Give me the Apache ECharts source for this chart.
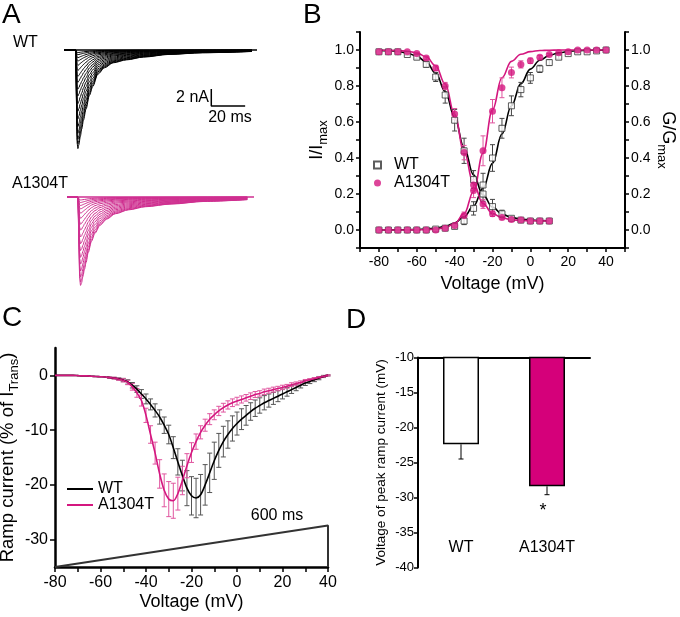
<!DOCTYPE html>
<html><head><meta charset="utf-8">
<script src="https://cdn.jsdelivr.net/npm/echarts@6/dist/echarts.min.js"></script>
<style>html,body{margin:0;padding:0;background:#fff}#c{width:680px;height:617px}</style>
</head><body><div id="c"></div>
<script>
// ---------- Panel A: current traces (time in ms, current in nA) ----------
const wtTimeMs = [-7, 0, 0.4, 0.8, 1.2, 1.8, 2.6, 3.5, 4.5, 6, 8, 10, 13, 17, 22, 30, 40, 55, 75, 104];
const wtShape = [0, 0, 0.55, 0.95, 1.0, 0.96, 0.88, 0.80, 0.71, 0.60, 0.46, 0.37, 0.245, 0.18, 0.13, 0.10, 0.072, 0.045, 0.028, 0.015];
const wtPeaksNA = [11.6, 11.1, 10.5, 9.8, 9.0, 8.1, 7.2, 6.3, 5.4, 4.6, 3.8, 3.1, 2.4, 1.8, 1.3, 0.9, 0.55, 0.3];
const mutTimeMs = [-6.5, 0, 0.5, 1.0, 1.5, 2.1, 2.9, 3.8, 4.8, 6, 8, 10, 13, 17, 22, 30, 40, 55, 75, 100];
const mutShape = [0, 0, 0.5, 0.92, 1.0, 0.97, 0.90, 0.82, 0.74, 0.63, 0.50, 0.41, 0.32, 0.25, 0.19, 0.145, 0.11, 0.08, 0.05, 0.03];
const mutPeaksNA = [10.4, 10.0, 9.4, 8.7, 7.9, 7.1, 6.3, 5.5, 4.7, 3.9, 3.2, 2.5, 1.9, 1.4, 1.0, 0.65, 0.35];
const wtBaselineMs = [-7, 107];
const mutBaselineMs = [-6.5, 104];
const scaleBarStartMs = 80, scaleBarLevelNA = -6.6, scaleBarMs = 20, scaleBarNA = 2;

// ---------- Panel B: steady-state inactivation / activation ----------
const inactV = [-80,-75,-70,-65,-60,-55,-50,-45,-40,-35,-30,-25,-20,-15,-10,-5,0,5,10];
const wtInact = [0.99,0.99,0.99,0.975,0.96,0.92,0.85,0.75,0.61,0.44,0.28,0.20,0.13,0.09,0.065,0.055,0.05,0.05,0.05];
const wtInactErr = [0,0,0,0.005,0.01,0.015,0.025,0.045,0.06,0.07,0.05,0.04,0.04,0.02,0.01,0.005,0,0,0];
const mutInact = [0.99,0.99,0.99,0.99,0.98,0.955,0.90,0.80,0.645,0.43,0.25,0.145,0.09,0.07,0.058,0.055,0.05,0.05,0.05];
const mutInactErr = [0,0,0,0,0.005,0.01,0.015,0.02,0.03,0.04,0.03,0.025,0.015,0.01,0.005,0,0,0,0];
const wtInactFit = [0.998,0.996,0.992,0.983,0.966,0.933,0.872,0.770,0.625,0.458,0.306,0.195,0.127,0.089,0.070,0.060,0.055,0.052,0.051];
const mutInactFit = [1.0,0.999,0.997,0.993,0.984,0.962,0.912,0.811,0.641,0.433,0.256,0.147,0.092,0.068,0.057,0.053,0.051,0.051,0.050];
const actV = [-80,-75,-70,-65,-60,-55,-50,-45,-40,-35,-30,-25,-20,-15,-10,-5,0,5,10,15,20,25,30,35,40];
const wtAct = [0,0,0,0,0,0,0.005,0.01,0.02,0.05,0.12,0.25,0.40,0.565,0.69,0.78,0.845,0.895,0.93,0.96,0.98,0.99,0.99,0.995,1.0];
const wtActErr = [0,0,0,0,0,0,0,0.005,0.01,0.02,0.037,0.065,0.074,0.055,0.055,0.04,0.03,0.02,0.015,0.01,0.005,0.005,0,0,0];
const mutAct = [0,0,0,0,0,0,0,0.01,0.025,0.08,0.22,0.44,0.66,0.79,0.875,0.92,0.94,0.96,0.975,0.985,0.99,1.0,1.0,1.0,1.0];
const mutActErr = [0,0,0,0,0,0,0,0.005,0.01,0.02,0.04,0.083,0.065,0.055,0.03,0.02,0.015,0.01,0.005,0,0,0,0,0,0];
const wtActFit = [0.0002,0.0004,0.0007,0.0015,0.0028,0.0055,0.0106,0.0205,0.039,0.074,0.134,0.231,0.370,0.533,0.690,0.813,0.894,0.943,0.970,0.984,0.992,0.996,0.998,0.999,0.9995];
const mutActFit = [0,0,0.0001,0.0003,0.0007,0.0018,0.005,0.013,0.036,0.091,0.214,0.426,0.668,0.846,0.937,0.976,0.991,0.997,0.999,1.0,1.0,1.0,1.0,1.0,1.0];

// ---------- Panel C: ramp currents (% of I_Trans) ----------
const rampV = [-80,-78,-76,-74,-72,-70,-68,-66,-64,-62,-60,-58,-56,-54,-52,-50,-48,-46,-44,-42,-40,-38,-36,-34,-32,-30,-28,-26,-24,-22,-20,-18,-16,-14,-12,-10,-8,-6,-4,-2,0,2,4,6,8,10,12,14,16,18,20,22,24,26,28,30,32,34,36,38,40];
const rampWT = [0,0,0,0,0,-0.05,-0.1,-0.1,-0.15,-0.2,-0.25,-0.3,-0.4,-0.5,-0.65,-0.85,-1.2,-1.8,-2.5,-3.4,-4.3,-5.3,-6.4,-7.6,-9.1,-10.8,-13.2,-15.8,-18.3,-20.6,-22.0,-22.4,-21.8,-20.0,-17.8,-15.6,-13.7,-12.1,-10.8,-9.7,-8.8,-8.0,-7.3,-6.6,-6.0,-5.5,-5.0,-4.6,-4.2,-3.8,-3.4,-3.0,-2.6,-2.2,-1.8,-1.4,-1.1,-0.8,-0.5,-0.2,0];
const rampWTErr = [0,0,0,0,0,0,0,0,0,0,0,0,0.1,0.15,0.2,0.3,0.4,0.5,0.6,0.8,0.9,1.0,1.2,1.3,1.5,1.7,2.0,2.4,2.8,3.2,3.5,3.6,3.7,3.7,3.6,3.4,3.1,2.8,2.5,2.3,2.1,1.9,1.8,1.6,1.5,1.4,1.3,1.2,1.1,1.0,0.9,0.8,0.7,0.6,0.5,0.45,0.4,0.35,0.3,0.2,0.1];
const rampMut = [0,0,0,0,0,-0.05,-0.1,-0.1,-0.15,-0.2,-0.25,-0.3,-0.4,-0.5,-0.7,-0.9,-1.3,-2.1,-3.2,-4.6,-7.3,-10.8,-14.2,-18.0,-21.0,-22.6,-22.9,-21.6,-19.2,-16.5,-14.1,-12.1,-10.4,-9.1,-8.0,-7.2,-6.5,-5.9,-5.4,-5.0,-4.7,-4.4,-4.1,-3.8,-3.5,-3.3,-3.0,-2.8,-2.6,-2.4,-2.2,-2.0,-1.7,-1.5,-1.3,-1.0,-0.8,-0.6,-0.4,-0.2,0];
const rampMutErr = [0,0,0,0,0,0,0,0,0,0,0,0,0.1,0.15,0.2,0.3,0.4,0.6,0.8,1.0,1.3,1.6,2.0,2.6,3.0,3.2,3.2,3.0,2.6,2.2,1.8,1.4,1.2,1.1,1.0,0.9,0.85,0.8,0.75,0.7,0.7,0.65,0.6,0.6,0.55,0.5,0.5,0.45,0.45,0.4,0.4,0.35,0.35,0.3,0.3,0.25,0.2,0.2,0.15,0.1,0.1];
const rampProtocolV = [-80, 40];
const rampProtocolLevel = [-35, -27.4];

// ---------- Panel D: voltage of peak ramp current ----------
const dCategories = ['WT', 'A1304T'];
const dPeakV = [-22.4, -28.4];
const dPeakErr = [2.1, 1.2];

// ================= chart =================
const FONT = "'Liberation Sans', Arial, Helvetica, sans-serif";
const PINK = '#d4177f', PINK_ERR = '#e0559f', PINK_TRACE = '#cf2f90', BAR_PINK = '#d5007a';
const zip = (xs, ys) => xs.map((x, i) => [x, ys[i]]);

function errBars(name, xi, yi, xs, ys, es, color, capHalf, lowerOnly) {
  const data = [];
  xs.forEach((x, i) => { if (es[i] > 0) data.push([x, ys[i] - es[i], lowerOnly ? ys[i] : ys[i] + es[i]]); });
  return {
    type: 'custom', name, xAxisIndex: xi, yAxisIndex: yi, silent: true, data, z: 3,
    renderItem(params, api) {
      const x = api.value(0);
      const lo = api.coord([x, api.value(1)]);
      const hi = api.coord([x, api.value(2)]);
      const st = { stroke: color, lineWidth: 1 };
      const ch = [
        { type: 'line', shape: { x1: lo[0], y1: lo[1], x2: hi[0], y2: hi[1] }, style: st },
        { type: 'line', shape: { x1: lo[0] - capHalf, y1: lo[1], x2: lo[0] + capHalf, y2: lo[1] }, style: st }
      ];
      if (!lowerOnly) ch.push({ type: 'line', shape: { x1: hi[0] - capHalf, y1: hi[1], x2: hi[0] + capHalf, y2: hi[1] }, style: st });
      return { type: 'group', children: ch };
    }
  };
}

const series = [];
wtPeaksNA.forEach((p, k) => series.push({
  type: 'line', name: 'WT trace ' + (k + 1), xAxisIndex: 0, yAxisIndex: 0, silent: true,
  data: wtTimeMs.map((t, i) => [t, -p * wtShape[i]]), smooth: 0.3, smoothMonotone: 'x',
  symbol: 'none', lineStyle: { color: '#000', width: 1 }
}));
mutPeaksNA.forEach((p, k) => series.push({
  type: 'line', name: 'A1304T trace ' + (k + 1), xAxisIndex: 1, yAxisIndex: 1, silent: true,
  data: mutTimeMs.map((t, i) => [t, -p * mutShape[i]]), smooth: 0.3, smoothMonotone: 'x',
  symbol: 'none', lineStyle: { color: PINK_TRACE, width: 1 }
}));
series.push({ type: 'line', name: 'WT baseline', xAxisIndex: 0, yAxisIndex: 0, silent: true, symbol: 'none',
  data: wtBaselineMs.map(t => [t, 0]), lineStyle: { color: '#000', width: 1.5 } });
series.push({ type: 'line', name: 'A1304T baseline', xAxisIndex: 1, yAxisIndex: 1, silent: true, symbol: 'none',
  data: mutBaselineMs.map(t => [t, 0]), lineStyle: { color: PINK_TRACE, width: 1.5 } });
series.push({ type: 'line', name: 'scale bar', xAxisIndex: 0, yAxisIndex: 0, silent: true, symbol: 'none',
  data: [[scaleBarStartMs, scaleBarLevelNA + scaleBarNA], [scaleBarStartMs, scaleBarLevelNA], [scaleBarStartMs + scaleBarMs, scaleBarLevelNA]],
  lineStyle: { color: '#000', width: 1.5 } });

// B
const fitLine = (name, yi, xs, ys, color) => ({ type: 'line', name, xAxisIndex: 2, yAxisIndex: yi, silent: true,
  data: zip(xs, ys), smooth: 0.4, smoothMonotone: 'x', symbol: 'none', lineStyle: { color, width: 1.6 }, z: 2 });
series.push(fitLine('WT inactivation fit', 2, inactV, wtInactFit, '#000'));
series.push(fitLine('WT activation fit', 3, actV, wtActFit, '#000'));
series.push(fitLine('A1304T inactivation fit', 2, inactV, mutInactFit, PINK));
series.push(fitLine('A1304T activation fit', 3, actV, mutActFit, PINK));
series.push(errBars('WT inact SEM', 2, 2, inactV, wtInact, wtInactErr, '#444', 2.5));
series.push(errBars('WT act SEM', 2, 3, actV, wtAct, wtActErr, '#444', 2.5));
series.push(errBars('A1304T inact SEM', 2, 2, inactV, mutInact, mutInactErr, PINK_ERR, 2.5));
series.push(errBars('A1304T act SEM', 2, 3, actV, mutAct, mutActErr, PINK_ERR, 2.5));
const wtSym = { symbol: 'rect', symbolSize: 6, itemStyle: { color: '#fff', borderColor: '#333', borderWidth: 1 }, z: 4 };
const mutSym = { symbol: 'circle', symbolSize: 7, itemStyle: { color: PINK }, z: 5 };
series.push(Object.assign({ type: 'scatter', name: 'WT', xAxisIndex: 2, yAxisIndex: 2, silent: true, data: zip(inactV, wtInact) }, wtSym));
series.push(Object.assign({ type: 'scatter', name: 'WT', xAxisIndex: 2, yAxisIndex: 3, silent: true, data: zip(actV, wtAct) }, wtSym));
series.push(Object.assign({ type: 'scatter', name: 'A1304T', xAxisIndex: 2, yAxisIndex: 2, silent: true, data: zip(inactV, mutInact) }, mutSym));
series.push(Object.assign({ type: 'scatter', name: 'A1304T', xAxisIndex: 2, yAxisIndex: 3, silent: true, data: zip(actV, mutAct) }, mutSym));

// C
series.push(errBars('WT ramp SEM', 3, 4, rampV, rampWT, rampWTErr, '#555', 2.5));
series.push(errBars('A1304T ramp SEM', 3, 4, rampV, rampMut, rampMutErr, PINK_ERR, 2.5));
series.push({ type: 'line', name: 'WT ramp', xAxisIndex: 3, yAxisIndex: 4, silent: true, data: zip(rampV, rampWT),
  smooth: 0.3, symbol: 'none', lineStyle: { color: '#000', width: 1.6 }, itemStyle: { color: '#000' }, z: 4 });
series.push({ type: 'line', name: 'A1304T ramp', xAxisIndex: 3, yAxisIndex: 4, silent: true, data: zip(rampV, rampMut),
  smooth: 0.3, symbol: 'none', lineStyle: { color: PINK, width: 1.6 }, itemStyle: { color: PINK }, z: 4 });
series.push({ type: 'line', name: 'ramp protocol', xAxisIndex: 3, yAxisIndex: 4, silent: true, symbol: 'none',
  data: [[rampProtocolV[0], rampProtocolLevel[0]], [rampProtocolV[1], rampProtocolLevel[1]], [rampProtocolV[1], rampProtocolLevel[0]]],
  lineStyle: { color: '#333', width: 2 } });

// D
const barColors = ['#ffffff', BAR_PINK];
series.push({ type: 'bar', name: 'Peak voltage', xAxisIndex: 4, yAxisIndex: 5, silent: true, barWidth: 36, clip: true,
  data: dPeakV.map((v, i) => ({ value: v, itemStyle: { color: barColors[i] } })),
  itemStyle: { borderColor: '#000', borderWidth: 1.5 } });
series.push(errBars('Peak voltage SEM', 4, 5, dCategories, dPeakV, dPeakErr, '#000', 2.5, true));

const axisBase = (extra) => Object.assign({
  type: 'value',
  axisLine: { show: true, onZero: false, lineStyle: { color: '#000', width: 2 } },
  axisTick: { show: true, length: 4, lineStyle: { color: '#000', width: 1.5 } },
  axisLabel: { color: '#000', fontFamily: FONT },
  splitLine: { show: false },
  nameTextStyle: { color: '#000', fontFamily: FONT }
}, extra);

const fmtB = v => { const r = Math.round(v * 10); return (r >= 0 && r <= 10 && r % 2 === 0) ? (r / 10).toFixed(1) : ''; };
const richB = {
  a: { fontSize: 18, fontFamily: FONT, color: '#000', lineHeight: 26 },
  s: { fontSize: 13, fontFamily: FONT, color: '#000', lineHeight: 12, verticalAlign: 'bottom' }
};
const richC = {
  a: { fontSize: 18.5, fontFamily: FONT, color: '#000', lineHeight: 26 },
  s: { fontSize: 13, fontFamily: FONT, color: '#000', lineHeight: 12, verticalAlign: 'bottom' }
};

const option = {
  animation: false,
  backgroundColor: '#fff',
  textStyle: { fontFamily: FONT, color: '#000' },
  grid: [
    { left: 64, top: 41.5, width: 193, height: 110.5, outerBoundsMode: 'none' },
    { left: 67, top: 188.5, width: 187, height: 110.5, outerBoundsMode: 'none' },
    { left: 360, top: 32, width: 265, height: 216, outerBoundsMode: 'none' },
    { left: 55, top: 348, width: 273, height: 219, outerBoundsMode: 'none' },
    { left: 418, top: 357.5, width: 172, height: 210, outerBoundsMode: 'none' }
  ],
  xAxis: [
    { gridIndex: 0, type: 'value', min: -7, max: 107, show: false },
    { gridIndex: 1, type: 'value', min: -6.5, max: 104, show: false },
    axisBase({ gridIndex: 2, min: -90, max: 50, interval: 10,
      axisLabel: { color: '#000', fontFamily: FONT, fontSize: 14, margin: 7,
        formatter: v => (Math.round(v) % 20 === 0 && v >= -80 && v <= 40) ? String(Math.round(v)) : '' },
      name: 'Voltage (mV)', nameLocation: 'middle', nameGap: 27,
      nameTextStyle: { color: '#000', fontFamily: FONT, fontSize: 18 } }),
    axisBase({ gridIndex: 3, min: -80, max: 40, interval: 10,
      axisLine: { show: true, onZero: false, lineStyle: { color: '#000', width: 2.5 } },
      axisTick: { show: true, length: 5, lineStyle: { color: '#000', width: 1.5 } },
      axisLabel: { color: '#000', fontFamily: FONT, fontSize: 16, margin: 8,
        formatter: v => (Math.round(v) % 20 === 0) ? String(Math.round(v)) : '' },
      name: 'Voltage (mV)', nameLocation: 'middle', nameGap: 26,
      nameTextStyle: { color: '#000', fontFamily: FONT, fontSize: 18 } }),
    { gridIndex: 4, type: 'category', data: dCategories, position: 'top',
      axisLine: { show: true, onZero: false, lineStyle: { color: '#000', width: 2 } },
      axisTick: { show: false }, axisLabel: { show: false }, splitLine: { show: false } },
    { gridIndex: 4, type: 'category', data: dCategories, position: 'bottom',
      axisLine: { show: false }, axisTick: { show: false }, splitLine: { show: false },
      axisLabel: { color: '#000', fontFamily: FONT, fontSize: 16, margin: -28 } }
  ],
  yAxis: [
    { gridIndex: 0, type: 'value', min: -12, max: 1, show: false },
    { gridIndex: 1, type: 'value', min: -12, max: 1, show: false },
    axisBase({ gridIndex: 2, position: 'left', min: -0.1, max: 1.1, interval: 0.1,
      axisLabel: { color: '#000', fontFamily: FONT, fontSize: 14, margin: 6, formatter: fmtB },
      name: '{a|I/I}{s|max}', nameLocation: 'middle', nameGap: 30,
      nameTextStyle: { rich: richB } }),
    axisBase({ gridIndex: 2, position: 'right', min: -0.1, max: 1.1, interval: 0.1,
      axisLabel: { color: '#000', fontFamily: FONT, fontSize: 14, margin: 6, formatter: fmtB },
      name: '{a|G/G}{s|max}', nameLocation: 'middle', nameGap: 30, nameRotate: -90,
      nameTextStyle: { rich: richB } }),
    axisBase({ gridIndex: 3, min: -35, max: 5, interval: 5,
      axisLine: { show: true, onZero: false, lineStyle: { color: '#000', width: 2.5 } },
      axisTick: { show: true, length: 5, lineStyle: { color: '#000', width: 1.5 }, customValues: [-30, -20, -10, 0] },
      axisLabel: { color: '#000', fontFamily: FONT, fontSize: 16, margin: 7,
        formatter: v => (Math.round(v) % 10 === 0 && v <= 0) ? String(Math.round(v)) : '' },
      name: '{a|Ramp current (% of I}{s|Trans}{a|)}', nameLocation: 'middle', nameGap: 28,
      nameTextStyle: { rich: richC } }),
    axisBase({ gridIndex: 4, min: -40, max: -10, interval: 5,
      axisLabel: { color: '#000', fontFamily: FONT, fontSize: 13, margin: 4 },
      name: 'Voltage of peak ramp current (mV)', nameLocation: 'middle', nameGap: 30,
      nameTextStyle: { color: '#000', fontFamily: FONT, fontSize: 13.5 } })
  ],
  legend: [
    { left: 373, top: 157, orient: 'vertical', padding: 0, itemWidth: 7, itemHeight: 7, itemGap: 2,
      selectedMode: false,
      data: [{ name: 'WT', icon: 'rect' }, { name: 'A1304T', icon: 'circle' }],
      textStyle: { color: '#000', fontFamily: FONT, fontSize: 16, padding: [0, 0, 0, 8] } },
    { left: 67, top: 481, orient: 'vertical', padding: 0, itemWidth: 26, itemHeight: 2, itemGap: 0,
      selectedMode: false, data: [{ name: 'WT ramp', icon: 'rect' }, { name: 'A1304T ramp', icon: 'rect' }],
      formatter: n => n.replace(' ramp', ''),
      textStyle: { color: '#000', fontFamily: FONT, fontSize: 16 } }
  ],
  graphic: [
    ['A', 2, 15, 28, 'left'], ['B', 303, 15, 28, 'left'], ['C', 2, 318, 28, 'left'], ['D', 346, 320, 28, 'left'],
    ['WT', 13, 43, 16, 'left'], ['A1304T', 12, 184, 16, 'left'],
    ['2 nA', 209, 98, 16, 'right'], ['20 ms', 230, 118, 16, 'center'],
    ['600 ms', 277, 516, 16, 'center'], ['*', 543, 511, 18, 'center']
  ].map(([t, x, y, fs, al]) => ({
    type: 'text', x, y, silent: true,
    style: { text: t, fontSize: fs, fontFamily: FONT, fill: '#000',
      align: al, textAlign: al, verticalAlign: 'middle', textVerticalAlign: 'middle' }
  })),
  series
};

const chart = echarts.init(document.getElementById('c'), null, { renderer: 'canvas' });
chart.setOption(option);
</script></body></html>
